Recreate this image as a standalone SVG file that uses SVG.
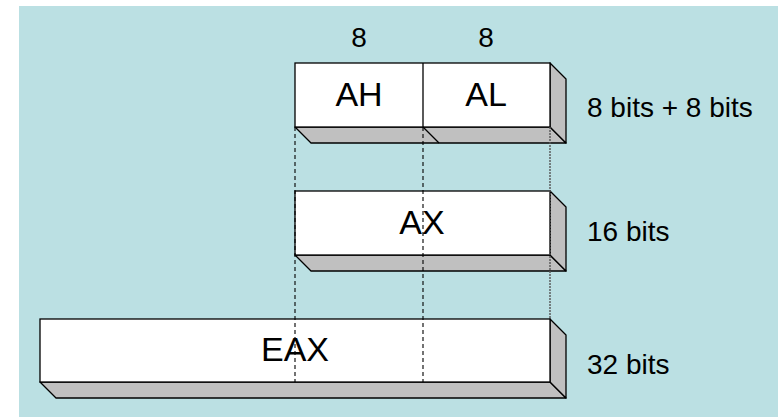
<svg xmlns="http://www.w3.org/2000/svg" width="778" height="417" viewBox="0 0 778 417">
<style>
.front{fill:#ffffff;stroke:#000;stroke-width:1.3}
.depth{fill:#c0c0c0;stroke:#000;stroke-width:1.3;stroke-linejoin:round}
.reg{font-family:"Liberation Sans",Arial,sans-serif;font-size:34px;fill:#000;text-anchor:middle}
.lbl{font-family:"Liberation Sans",Arial,sans-serif;font-size:28px;fill:#000}
.dash{stroke:#000;stroke-width:1.1;stroke-dasharray:4 3;fill:none}
.dot{stroke:#555;stroke-width:1.4;stroke-dasharray:2 1;fill:none}
</style>
<rect x="19" y="6" width="759" height="411" fill="#bbe0e3"/>
<g id="node-AHAL">
<polygon class="depth" points="295,127 550,127 566,143 311,143"/>
<polygon class="depth" points="550,63 566,79 566,143 550,127"/>
<rect class="front" x="295" y="63" width="255" height="64"/>
<line x1="423" y1="63" x2="423" y2="127" stroke="#000" stroke-width="1.3"/>
<line x1="423" y1="127" x2="439" y2="143" stroke="#000" stroke-width="1.3"/>
<text class="reg" x="359" y="106">AH</text>
<text class="reg" x="486" y="106">AL</text>
<text class="lbl" x="359" y="47" text-anchor="middle">8</text>
<text class="lbl" x="486" y="47" text-anchor="middle">8</text>
<text class="lbl" x="587" y="117">8 bits + 8 bits</text>
</g>
<g id="node-AX">
<polygon class="depth" points="295,255 550,255 566,271 311,271"/>
<polygon class="depth" points="550,191 566,207 566,271 550,255"/>
<rect class="front" x="295" y="191" width="255" height="64"/>
<text class="reg" x="422" y="234">AX</text>
<text class="lbl" x="587" y="241">16 bits</text>
</g>
<g id="node-EAX">
<polygon class="depth" points="40,382 550,382 566,398 56,398"/>
<polygon class="depth" points="550,319 566,335 566,398 550,382"/>
<rect class="front" x="40" y="319" width="510" height="63"/>
<text class="reg" x="295" y="361">EAX</text>
<text class="lbl" x="587" y="374">32 bits</text>
</g>
<g id="connectors">
<line class="dash" x1="295" y1="127" x2="295" y2="382"/>
<line class="dash" x1="423" y1="127" x2="423" y2="382"/>
<line class="dot" x1="550" y1="127" x2="550" y2="319"/>
</g>
</svg>
